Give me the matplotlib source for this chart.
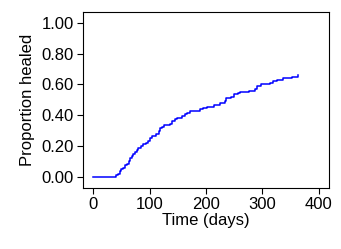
import matplotlib
matplotlib.use('Agg')
import matplotlib.pyplot as plt

plt.rcParams['font.family'] = ['Liberation Sans', 'DejaVu Sans']

# Kaplan-Meier style step curve
time_days = [0, 38, 40, 44, 47, 50, 53, 56, 60, 63, 65, 68, 71, 74, 77, 80, 84,
             89, 94, 98, 101, 104, 112, 117, 119, 122, 126, 136, 140, 145, 148,
             158, 162, 166, 172, 180, 189, 195, 201, 214, 224, 233, 236, 244,
             250, 257, 260, 277, 287, 291, 298, 313, 318, 325, 337, 353, 363]
prop_healed = [0.0, 0.0, 0.01, 0.02, 0.035, 0.05, 0.06, 0.075, 0.085, 0.10,
               0.12, 0.135, 0.145, 0.16, 0.175, 0.185, 0.20, 0.21, 0.22, 0.235,
               0.25, 0.265, 0.28, 0.30, 0.315, 0.325, 0.335, 0.345, 0.36, 0.375,
               0.385, 0.395, 0.405, 0.415, 0.425, 0.43, 0.44, 0.45, 0.455, 0.465,
               0.48, 0.495, 0.51, 0.52, 0.535, 0.545, 0.55, 0.56, 0.57, 0.59,
               0.60, 0.61, 0.62, 0.63, 0.64, 0.648, 0.66]

x_ticks = [0, 100, 200, 300, 400]
y_ticks = [0.0, 0.2, 0.4, 0.6, 0.8, 1.0]

fig = plt.figure(figsize=(3.41, 2.49), dpi=100)
ax = fig.add_axes([0.2434, 0.245, 0.7214, 0.707])

ax.plot(time_days, prop_healed, drawstyle='steps-post', color='#0000ff', linewidth=1.1)

ax.set_xlim(-18, 418)
ax.set_ylim(-0.073, 1.071)
ax.set_xticks(x_ticks)
ax.set_yticks(y_ticks)
ax.set_yticklabels([f'{v:.2f}' for v in y_ticks])
ax.tick_params(direction='out', length=4.5, width=0.8, labelsize=12, pad=2)
for s in ax.spines.values():
    s.set_linewidth(0.8)

ax.set_xlabel('Time (days)', fontsize=12, labelpad=0.5)
ax.set_ylabel('Proportion healed', fontsize=12, labelpad=5)

fig.savefig('out.png', dpi=100)
